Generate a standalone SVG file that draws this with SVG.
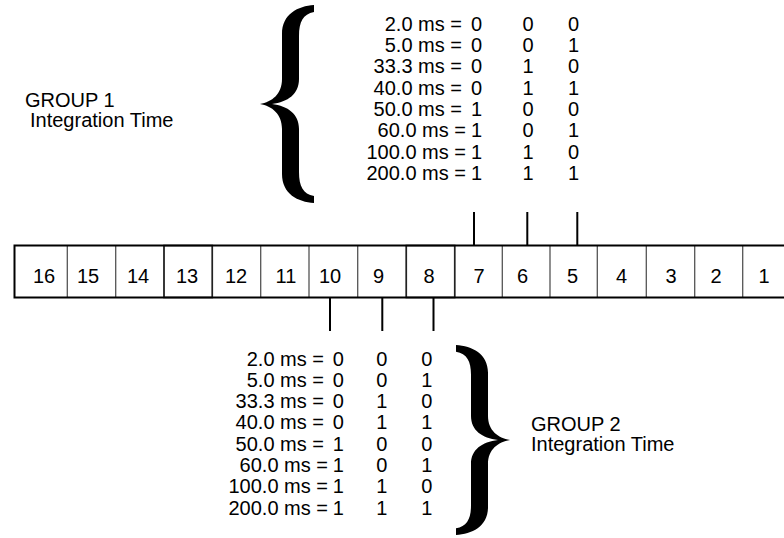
<svg xmlns="http://www.w3.org/2000/svg" xmlns:xlink="http://www.w3.org/1999/xlink" width="784" height="538" viewBox="0 0 784 538">
<style>
text{font-family:"Liberation Sans",Arial,Helvetica,sans-serif;fill:#000;font-size:20px}
.c{text-anchor:middle}
.e{text-anchor:end}
.outer{stroke:#000;stroke-width:2;fill:none}
.div{stroke:#555;stroke-width:1.3;fill:none}
.box{stroke:#222;stroke-width:1.6;fill:none}
.tick{stroke:#000;stroke-width:2;fill:none}
</style>
<defs>
<path id="brace" d="M54,-99 C38,-98 22,-90 22,-70 L22,-25 C22,-10 12,-2 0,0 C12,2 22,10 22,25 L22,70 C22,90 38,98 54,99 L54,92 C43,90 39,82 39,68 L39,25 C39,10 28,2 12,0 C28,-2 39,-10 39,-25 L39,-68 C39,-82 43,-90 54,-92 Z" fill="#000"/>
</defs>
<rect width="784" height="538" fill="#fff"/>

<g id="group1-label">
<text x="25" y="107">GROUP 1</text>
<text x="30" y="127">Integration Time</text>
</g>
<g id="group2-label">
<text x="531" y="431">GROUP 2</text>
<text x="531" y="451">Integration Time</text>
</g>

<g id="brace1"><use xlink:href="#brace" transform="translate(260,104)"/></g>
<g id="brace2"><use xlink:href="#brace" transform="translate(510,440) scale(-1,0.96)"/></g>

<g id="table1">
<g class="e">
<text x="462" y="30.5">2.0 ms =</text>
<text x="462" y="51.9">5.0 ms =</text>
<text x="462" y="73.2">33.3 ms =</text>
<text x="462" y="94.6">40.0 ms =</text>
<text x="462" y="115.9">50.0 ms =</text>
<text x="466" y="137.3">60.0 ms =</text>
<text x="466" y="158.6">100.0 ms =</text>
<text x="466" y="180">200.0 ms =</text>
</g>
<g class="c">
<text x="476.5" y="30.5">0</text><text x="528" y="30.5">0</text><text x="573.5" y="30.5">0</text>
<text x="476.5" y="51.9">0</text><text x="528" y="51.9">0</text><text x="573.5" y="51.9">1</text>
<text x="476.5" y="73.2">0</text><text x="528" y="73.2">1</text><text x="573.5" y="73.2">0</text>
<text x="476.5" y="94.6">0</text><text x="528" y="94.6">1</text><text x="573.5" y="94.6">1</text>
<text x="476.5" y="115.9">1</text><text x="528" y="115.9">0</text><text x="573.5" y="115.9">0</text>
<text x="476.5" y="137.3">1</text><text x="528" y="137.3">0</text><text x="573.5" y="137.3">1</text>
<text x="476.5" y="158.6">1</text><text x="528" y="158.6">1</text><text x="573.5" y="158.6">0</text>
<text x="476.5" y="180">1</text><text x="528" y="180">1</text><text x="573.5" y="180">1</text>
</g>
</g>

<g id="table2">
<g class="e">
<text x="324" y="365.5">2.0 ms =</text>
<text x="324" y="386.8">5.0 ms =</text>
<text x="324" y="408.1">33.3 ms =</text>
<text x="324" y="429.4">40.0 ms =</text>
<text x="324" y="450.7">50.0 ms =</text>
<text x="328" y="472">60.0 ms =</text>
<text x="328" y="493.3">100.0 ms =</text>
<text x="328" y="514.6">200.0 ms =</text>
</g>
<g class="c">
<text x="338.3" y="365.5">0</text><text x="381.7" y="365.5">0</text><text x="426.7" y="365.5">0</text>
<text x="338.3" y="386.8">0</text><text x="381.7" y="386.8">0</text><text x="426.7" y="386.8">1</text>
<text x="338.3" y="408.1">0</text><text x="381.7" y="408.1">1</text><text x="426.7" y="408.1">0</text>
<text x="338.3" y="429.4">0</text><text x="381.7" y="429.4">1</text><text x="426.7" y="429.4">1</text>
<text x="338.3" y="450.7">1</text><text x="381.7" y="450.7">0</text><text x="426.7" y="450.7">0</text>
<text x="338.3" y="472">1</text><text x="381.7" y="472">0</text><text x="426.7" y="472">1</text>
<text x="338.3" y="493.3">1</text><text x="381.7" y="493.3">1</text><text x="426.7" y="493.3">0</text>
<text x="338.3" y="514.6">1</text><text x="381.7" y="514.6">1</text><text x="426.7" y="514.6">1</text>
</g>
</g>

<g id="register">
<path class="div" d="M67.3,245V298M115.7,245V298M164,245V298M212.3,245V298M260.7,245V298M309,245V298M357.7,245V298M406.3,245V298M454.7,245V298M502.3,245V298M550,245V298M597.3,245V298M646.3,245V298M694.7,245V298M742.7,245V298"/>
<rect class="box" x="164" y="245.5" width="48.3" height="52"/>
<rect class="box" x="406.3" y="245.5" width="48.4" height="52"/>
<path class="outer" d="M784,245.5H14.5V297.5H784"/>
<g class="c">
<text x="44" y="283">16</text>
<text x="88" y="283">15</text>
<text x="138" y="283">14</text>
<text x="187" y="283">13</text>
<text x="236" y="283">12</text>
<text x="286" y="283">11</text>
<text x="330" y="283">10</text>
<text x="378.5" y="283">9</text>
<text x="429" y="283">8</text>
<text x="479" y="283">7</text>
<text x="522.5" y="283">6</text>
<text x="572.5" y="283">5</text>
<text x="621.5" y="283">4</text>
<text x="671" y="283">3</text>
<text x="716" y="283">2</text>
<text x="764" y="283">1</text>
</g>
</g>

<g id="connectors">
<path class="tick" d="M474,212V245M527.3,212V245M577.3,212V245"/>
<path class="tick" d="M330,298V331M382.3,298V331M433.5,298V331"/>
</g>
</svg>
